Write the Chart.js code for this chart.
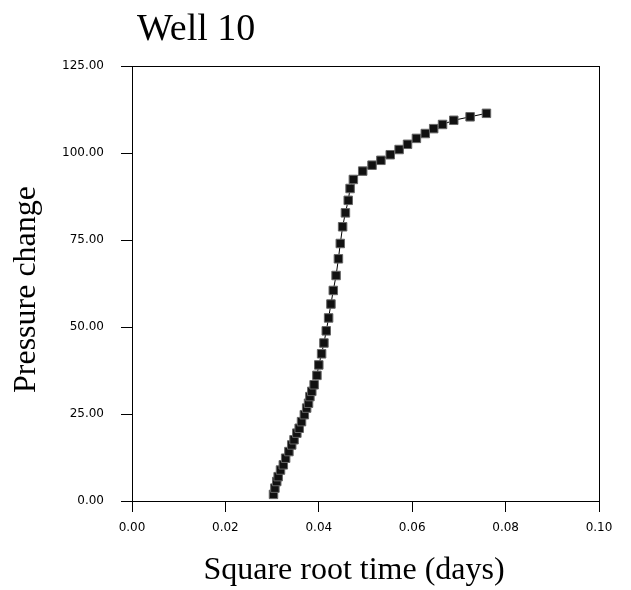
<!DOCTYPE html>
<html>
<head>
<meta charset="utf-8">
<script src="https://cdn.jsdelivr.net/npm/chart.js@4"></script>
<style>
  html, body { margin: 0; padding: 0; background: #fff; }
  #wrap { width: 631px; height: 590px; }
</style>
</head>
<body>
<div id="wrap"><canvas id="well-canvas"></canvas></div>
<script>
var timeSqrt = [0.0303, 0.0306, 0.0310, 0.0313, 0.0318, 0.0324, 0.0329, 0.0336, 0.0342, 0.0347,
                0.0353, 0.0358, 0.0363, 0.0369, 0.0374, 0.0378, 0.0381, 0.0385, 0.0390, 0.0396,
                0.0400, 0.0406, 0.0411, 0.0416, 0.0421, 0.0426, 0.0431, 0.0437, 0.0442, 0.0446,
                0.0451, 0.0457, 0.0463, 0.0467, 0.0474, 0.0494, 0.0514, 0.0533, 0.0553, 0.0572,
                0.0590, 0.0609, 0.0628, 0.0646, 0.0665, 0.0689, 0.0724, 0.0759];
var pressureChange = [1.9, 3.7, 5.6, 7.0, 8.9, 10.4, 12.3, 14.2, 16.1, 17.6,
                      19.5, 20.9, 22.8, 24.8, 26.7, 28.1, 30.0, 31.5, 33.4, 36.1,
                      39.1, 42.3, 45.4, 48.9, 52.6, 56.6, 60.5, 64.8, 69.6, 74.0,
                      78.8, 82.8, 86.4, 89.8, 92.4, 94.8, 96.5, 97.9, 99.5, 101.0,
                      102.5, 104.2, 105.6, 107.0, 108.2, 109.4, 110.4, 111.4];
var xTickStep = 0.02;
var yTickStep = 25;

var chartTitle = "Well 10";
var xTitle = "Square root time (days)";
var yTitle = "Pressure change";

var points = timeSqrt.map(function (t, i) {
    return { x: t, y: pressureChange[i] };
});

var tickFont = { family: "DejaVu Sans", size: 12 };

// titles drawn in serif, placed like the original
var titlesPlugin = {
    id: "titles",
    afterDraw: function (chart) {
        var ctx = chart.ctx;
        var area = chart.chartArea;
        ctx.save();
        ctx.fillStyle = "#000";
        ctx.textBaseline = "alphabetic";

        ctx.font = "38px 'Liberation Serif'";
        ctx.textAlign = "left";
        ctx.fillText(chartTitle, area.left + 5, 40);

        ctx.font = "32px 'Liberation Serif'";
        ctx.textAlign = "center";
        ctx.fillText(xTitle, 354, 579);

        ctx.translate(35, (area.top + area.bottom) / 2 + 6);
        ctx.rotate(-Math.PI / 2);
        ctx.fillText(yTitle, 0, 0);
        ctx.restore();
    }
};

var frameAxis = {
    display: true,
    ticks: { display: false },
    grid: { drawOnChartArea: false, drawTicks: false },
    border: { display: true, color: "#000", width: 1 }
};

var myChart = new Chart(document.getElementById("well-canvas").getContext("2d"), {
    type: "scatter",
    data: {
        datasets: [{
            data: points,
            showLine: true,
            borderColor: "#000",
            borderWidth: 1,
            pointStyle: "rect",
            pointRadius: 6,
            pointHoverRadius: 6,
            pointBackgroundColor: "#111",
            pointBorderColor: "#666",
            pointBorderWidth: 1
        }]
    },
    options: {
        responsive: true,
        maintainAspectRatio: false,
        animation: false,
        layout: { padding: { left: 0, top: 66, right: 32, bottom: 49 } },
        plugins: {
            legend: { display: false },
            title: { display: false },
            tooltip: { enabled: false }
        },
        scales: {
            x: {
                type: "linear",
                position: "bottom",
                min: 0,
                max: 0.1,
                ticks: {
                    stepSize: xTickStep,
                    color: "#000",
                    font: tickFont,
                    padding: 9,
                    maxRotation: 0,
                    callback: function (v) { return v.toFixed(2); }
                },
                grid: { drawOnChartArea: false, drawTicks: true, tickLength: 11, color: "#000" },
                border: { display: true, color: "#000", width: 1 },
                afterFit: function (scale) { scale.height = 40; }
            },
            y: {
                type: "linear",
                position: "left",
                min: 0,
                max: 125,
                ticks: {
                    stepSize: yTickStep,
                    color: "#000",
                    font: tickFont,
                    padding: 17,
                    callback: function (v) { return v.toFixed(2); }
                },
                grid: { drawOnChartArea: false, drawTicks: true, tickLength: 11, color: "#000" },
                border: { display: true, color: "#000", width: 1 },
                afterFit: function (scale) { scale.width = 132; }
            },
            xTop: Object.assign({}, frameAxis, {
                type: "linear", position: "top", min: 0, max: 0.1,
                afterFit: function (scale) { scale.height = 0; }
            }),
            yRight: Object.assign({}, frameAxis, {
                type: "linear", position: "right", min: 0, max: 125,
                afterFit: function (scale) { scale.width = 0; }
            })
        }
    },
    plugins: [titlesPlugin]
});
</script>
</body>
</html>
